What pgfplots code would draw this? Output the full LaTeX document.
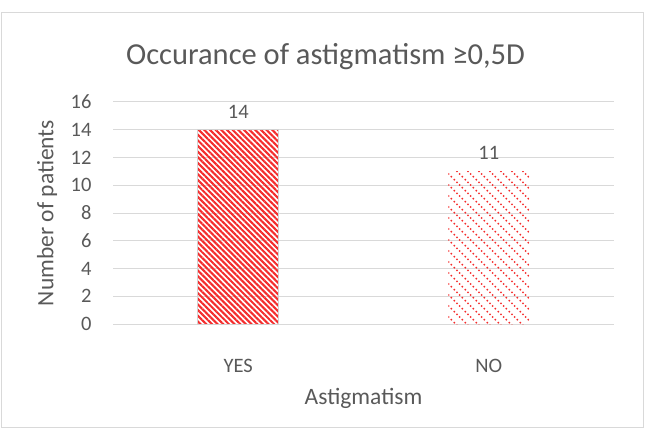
\documentclass[border=0pt]{standalone}
\usepackage{pgfplots}
\pgfplotsset{compat=1.18}
\usepackage{fontspec}
\setmainfont{Carlito}
\usetikzlibrary{patterns.meta}
\definecolor{txt}{HTML}{595959}
\definecolor{grid}{HTML}{D9D9D9}
\definecolor{barred}{HTML}{F42C2C}
\tikzdeclarepattern{
  name=dotdiag,
  type=uncolored,
  bottom left={(0bp,0bp)},
  top right={(10.8bp,10.8bp)},
  tile size={(10.8bp,10.8bp)},
  code={
    \fill (1.35bp,9.45bp) circle (1.05bp);
    \fill (4.05bp,6.75bp) circle (1.05bp);
    \fill (6.75bp,4.05bp) circle (1.05bp);
    \fill (9.45bp,1.35bp) circle (1.05bp);
  }
}
\begin{document}
\begin{tikzpicture}[x=1bp,y=1bp]
\path[use as bounding box] (0,0) rectangle (645,429);
\draw[grid, line width=1bp] (1.5,2) rectangle (643,416);
\node[txt, font=\fontsize{30.5bp}{34bp}\selectfont] at (325.5,372) {Occurance of astigmatism ≥0,5D};
\begin{axis}[
  at={(113bp,105bp)}, anchor=south west,
  scale only axis, width=501bp, height=222bp,
  xmin=-0.5, xmax=1.5, ymin=0, ymax=16,
  xtick={0,1}, xticklabels={YES,NO},
  ytick={0,2,...,16},
  axis line style={draw=none},
  axis x line*=bottom,
  x axis line style={draw=grid, line width=1bp},
  ymajorgrids, grid style={draw=grid, line width=1bp},
  tick style={draw=none},
  ticklabel style={txt, font=\fontsize{20.5bp}{23bp}\selectfont},
  yticklabel style={anchor=east, xshift=-18bp},
  xticklabel style={anchor=center, yshift=-38bp},
  /pgf/number format/assume math mode=true,
  xlabel={Astigmatism}, ylabel={Number of patients},
  label style={txt, font=\fontsize{23.5bp}{26bp}\selectfont},
  xlabel style={at={([yshift=-74bp]axis description cs:0.5,0)}, anchor=center},
  ylabel style={at={([xshift=-66bp]axis description cs:0,0.5)}, anchor=center},
  ybar, bar width=81bp,
  nodes near coords,
  nodes near coords style={txt, font=\fontsize{20.5bp}{23bp}\selectfont, anchor=center, yshift=18bp},
]
\addplot[bar shift=0pt, draw=gray!35, line width=0.8bp, pattern={Lines[angle=-45, distance=4bp, line width=2.1bp]}, pattern color=barred] coordinates {(0,14)};
\addplot[bar shift=0pt, draw=none, pattern=dotdiag, pattern color=barred] coordinates {(1,11)};
\end{axis}
\end{tikzpicture}
\end{document}
